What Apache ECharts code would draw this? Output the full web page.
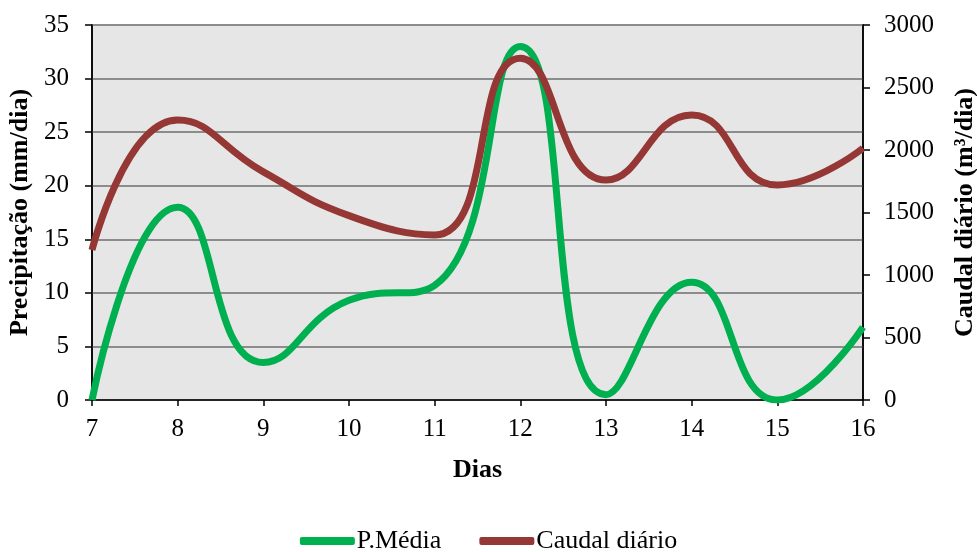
<!DOCTYPE html>
<html>
<head>
<meta charset="utf-8">
<script src="https://cdn.jsdelivr.net/npm/echarts@6/dist/echarts.min.js"></script>
<style>
html,body{margin:0;padding:0;background:#fff;}
#c{width:977px;height:552px;}
</style>
</head>
<body>
<div id="c"></div>
<script>
const dias = [7, 8, 9, 10, 11, 12, 13, 14, 15, 16];
const precipitacao = [0, 18, 3.5, 9.3, 10.7, 33, 0.5, 11, 0, 6.8];
const caudal = [1200, 2240, 1825, 1475, 1320, 2735, 1760, 2280, 1720, 2015];
const leftTicks = [0, 35, 5];
const rightTicks = [0, 3000, 500];

const font = "'Liberation Serif', 'Times New Roman', serif";
const chart = echarts.init(document.getElementById('c'));
chart.setOption({
  backgroundColor: '#ffffff',
  animation: false,
  textStyle: { fontFamily: font, color: '#000' },
  grid: { left: 92, right: 114, top: 25, bottom: 152, show: true,
          outerBoundsMode: 'none', containLabel: false,
          backgroundColor: '#E6E6E6', borderColor: '#000', borderWidth: 1.5 },
  legend: {
    top: 523, left: 'center',
    itemWidth: 55, itemHeight: 8, itemGap: 38, icon: 'roundRect',
    textStyle: { fontFamily: font, fontSize: 26, color: '#000', padding: [0, 0, 0, -3] },
    data: ['P.Média', 'Caudal diário']
  },
  xAxis: {
    type: 'value', min: dias[0], max: dias[dias.length - 1], interval: 1,
    name: 'Dias', nameLocation: 'middle', nameGap: 57,
    nameTextStyle: { fontFamily: font, fontSize: 26, fontWeight: 'bold', color: '#000' },
    axisLine: { lineStyle: { color: '#000', width: 1.5 } },
    axisTick: { show: true, inside: false, length: 6, lineStyle: { color: '#000', width: 1.5 } },
    axisLabel: { fontFamily: font, fontSize: 25, color: '#000', margin: 17 },
    splitLine: { show: false }
  },
  yAxis: [
    {
      type: 'value', min: leftTicks[0], max: leftTicks[1], interval: leftTicks[2],
      name: 'Precipitação (mm/dia)', nameLocation: 'middle', nameGap: 59, nameRotate: 90,
      nameTextStyle: { fontFamily: font, fontSize: 26, fontWeight: 'bold', color: '#000' },
      axisLine: { show: true, lineStyle: { color: '#000', width: 1.5 } },
      axisTick: { show: true, length: 7, lineStyle: { color: '#000', width: 1.5 } },
      axisLabel: { fontFamily: font, fontSize: 25, color: '#000', margin: 23 },
      splitLine: { show: true, lineStyle: { color: '#8C8C8C', width: 2 } }
    },
    {
      type: 'value', min: rightTicks[0], max: rightTicks[1], interval: rightTicks[2],
      position: 'right',
      name: 'Caudal diário (m³/dia)', nameLocation: 'middle', nameGap: 89, nameRotate: 90,
      nameTextStyle: { fontFamily: font, fontSize: 26, fontWeight: 'bold', color: '#000' },
      axisLine: { show: true, lineStyle: { color: '#000', width: 1.5 } },
      axisTick: { show: true, length: 7, lineStyle: { color: '#000', width: 1.5 } },
      axisLabel: { fontFamily: font, fontSize: 25, color: '#000', margin: 21,
                   formatter: v => String(v) },
      splitLine: { show: false }
    }
  ],
  series: [
    {
      name: 'P.Média', type: 'line', yAxisIndex: 0, smooth: 0.5,
      symbol: 'none', color: '#00B050',
      lineStyle: { width: 7, color: '#00B050' },
      data: dias.map((d, i) => [d, precipitacao[i]]),
      z: 3
    },
    {
      name: 'Caudal diário', type: 'line', yAxisIndex: 1, smooth: 0.5,
      symbol: 'none', color: '#953735',
      lineStyle: { width: 7, color: '#953735' },
      data: dias.map((d, i) => [d, caudal[i]]),
      z: 4
    }
  ]
});
</script>
</body>
</html>
